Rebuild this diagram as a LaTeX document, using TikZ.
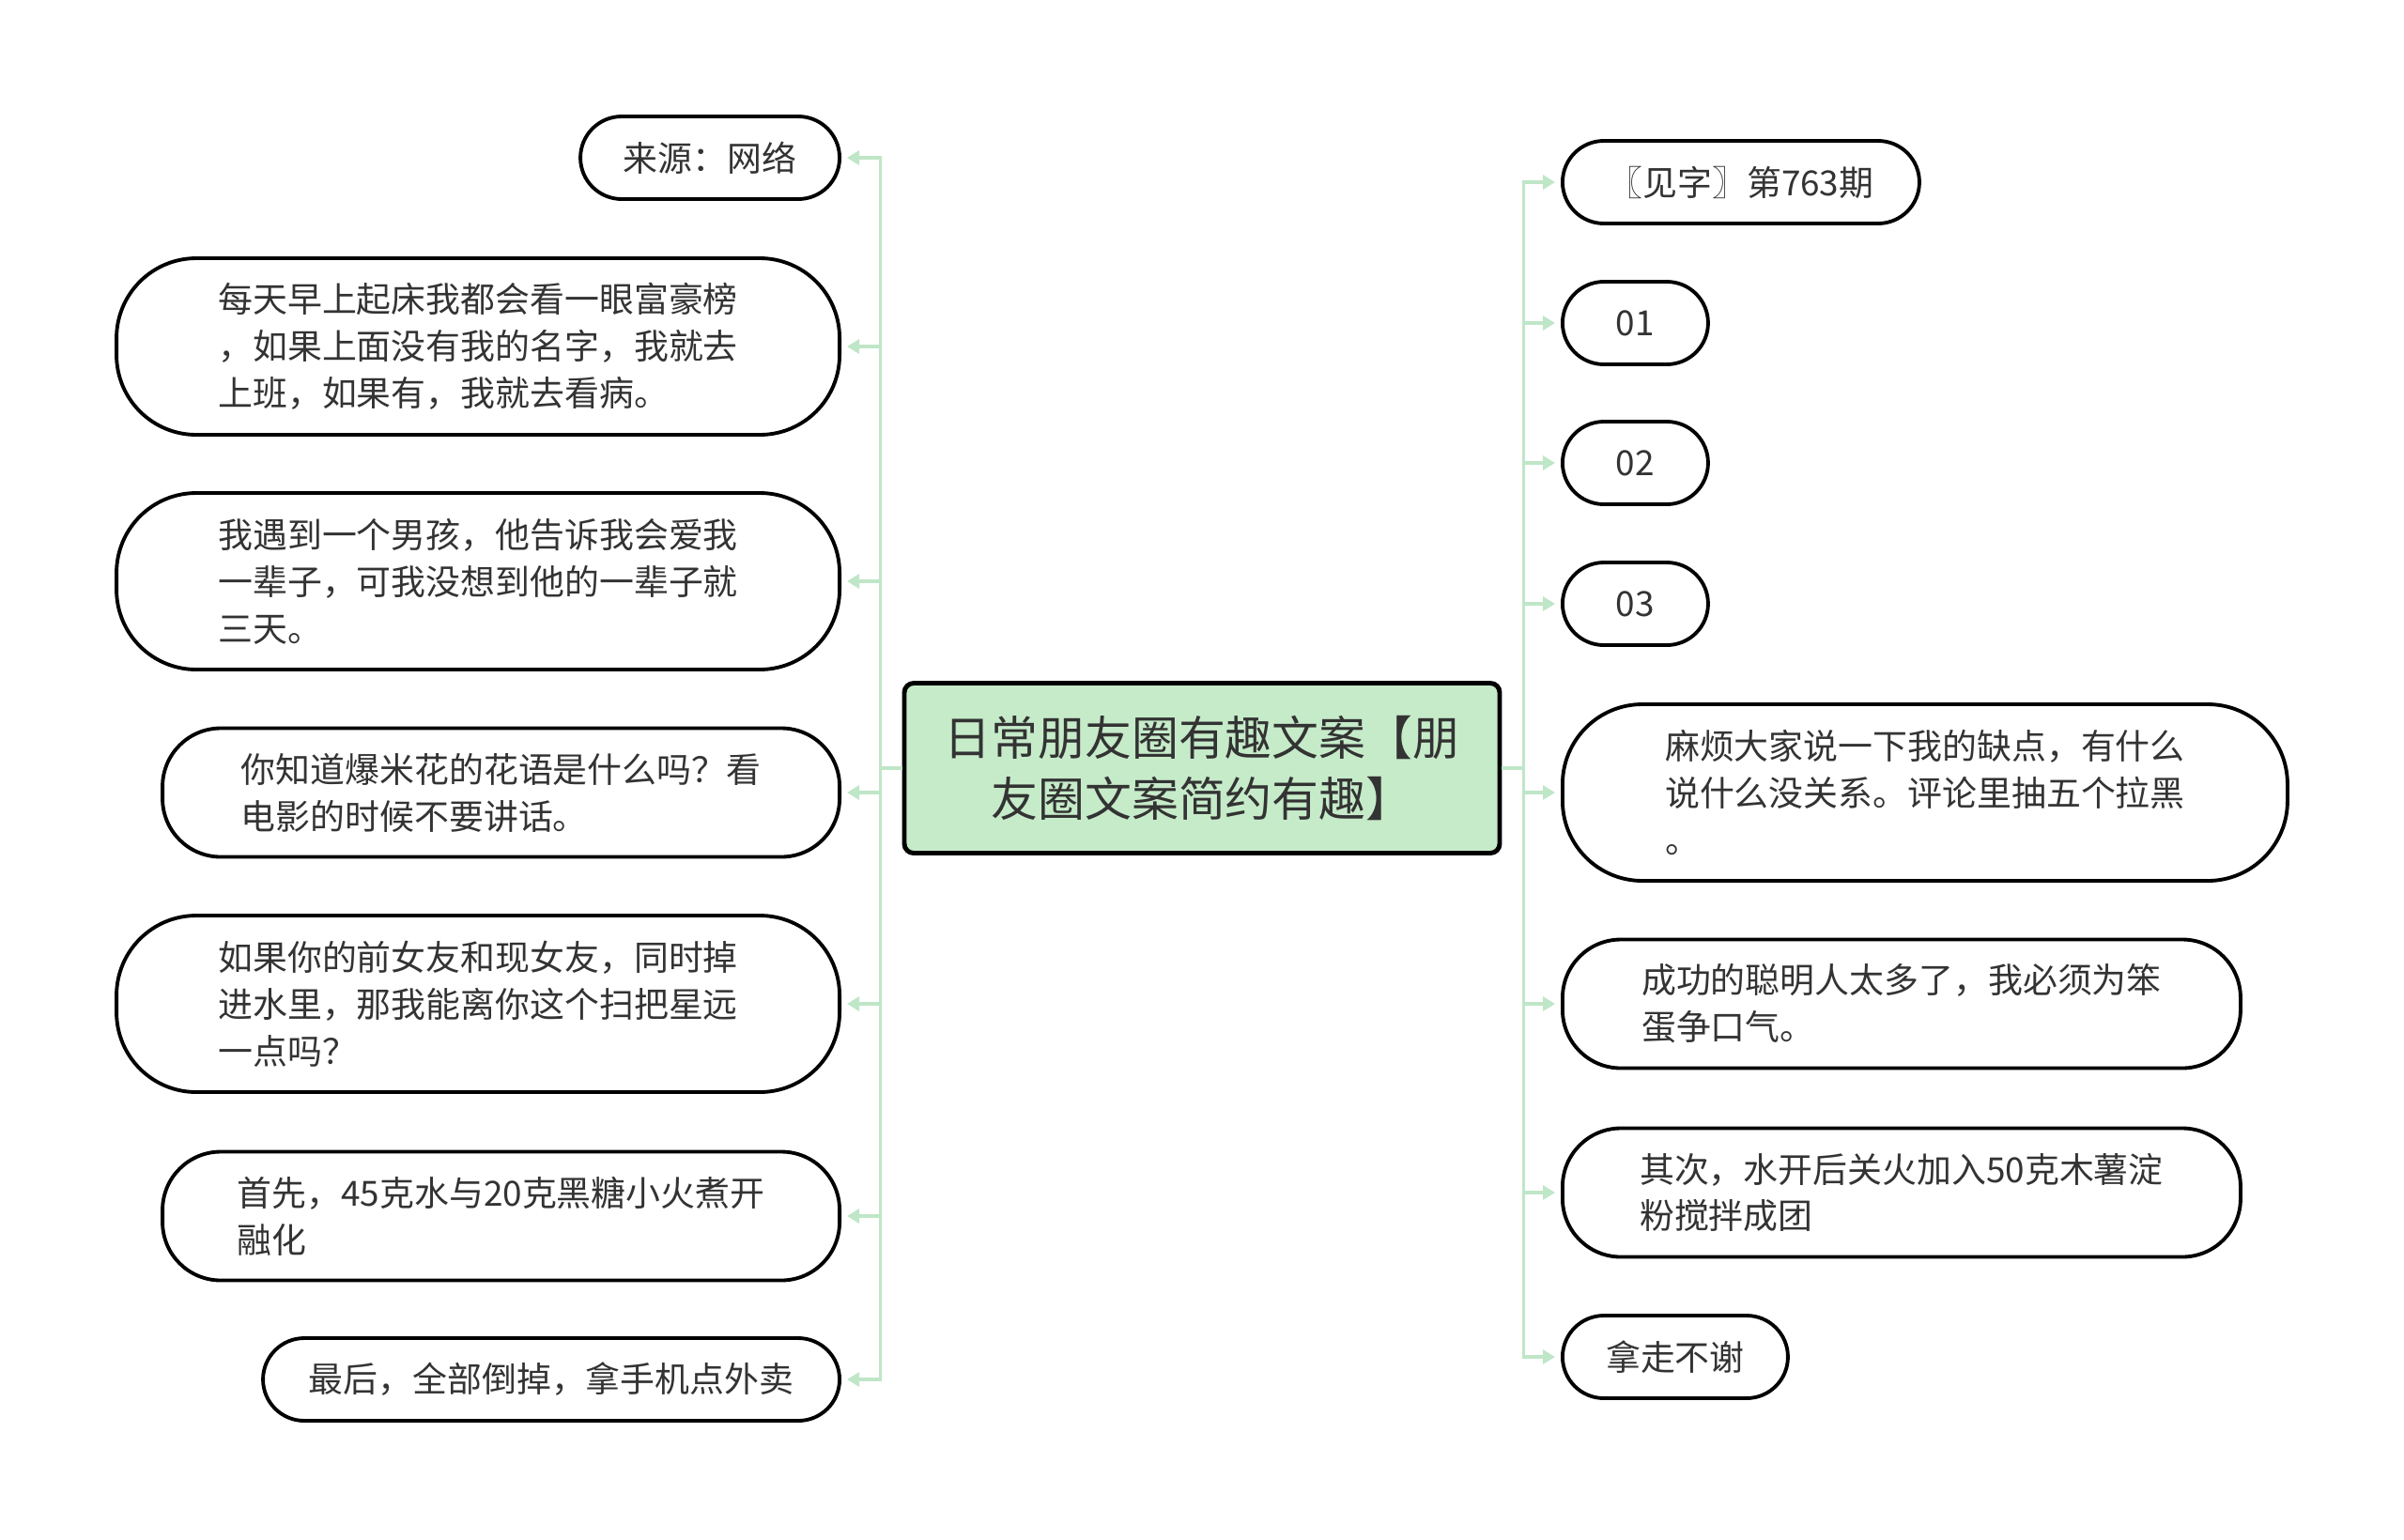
\documentclass[tikz,border=0pt]{standalone}
\usepackage{fontspec}
\usepackage{xcolor}
\usepackage{tikz}
\usetikzlibrary{arrows.meta, positioning}
\newfontfamily\cjk{Noto Sans CJK SC}
\definecolor{linkgreen}{HTML}{BFE6C7}
\definecolor{rootfill}{HTML}{C6EBC9}
\definecolor{txt}{HTML}{333333}

\begin{document}
\begin{tikzpicture}

  %% Canvas
  \useasboundingbox (0,0) rectangle (25.60,-16.39);

  %% Styles
  \tikzset{
    root/.style={draw=black, line width=1.4pt, fill=rootfill, rounded corners=0.1cm,
      minimum width=6.34cm, minimum height=1.81cm, align=center, text=txt,
      font=\cjk\fontsize{14.2}{18.5}\selectfont},
    leaf/.style={draw=black, line width=1.1pt, fill=white, align=left, text=txt,
      font=\cjk\fontsize{10.5}{14.2}\selectfont},
    one/.style={leaf, rounded corners=0.44cm, minimum height=0.88cm},
    two/.style={leaf, rounded corners=0.62cm, minimum height=1.37cm},
    three/.style={leaf, rounded corners=0.85cm, minimum height=1.88cm},
    link/.style={draw=linkgreen, line width=1pt, shorten >=0.06cm,
      -{Triangle[length=0.13cm, width=0.15cm]}}
  }

  %% Root
  \node[root] (root) at (12.80,-8.18)
    {日常朋友圈有趣文案【朋\\友圈文案简约有趣】};

  %% Left branch
  \node[one, minimum width=2.76cm, anchor=east] (l1) at (8.96,-1.68) {来源：网络};
  \node[three, minimum width=7.70cm, anchor=east] (l2) at (8.96,-3.69)
    {每天早上起床我都会看一眼富豪榜\\，如果上面没有我的名字，我就去\\上班，如果有，我就去看病。};
  \node[three, minimum width=7.70cm, anchor=east] (l3) at (8.96,-6.19)
    {我遇到一个男孩，他告诉我会爱我\\一辈子，可我没想到他的一辈子就\\三天。};
  \node[two, minimum width=7.21cm, anchor=east] (l4) at (8.96,-8.44)
    {你知道爆米花的花语是什么吗？看\\电影的时候不要讲话。};
  \node[three, minimum width=7.70cm, anchor=east] (l5) at (8.96,-10.69)
    {如果你的前女友和现女友，同时掉\\进水里，那我能离你这个扫把星远\\一点吗？};
  \node[two, minimum width=7.21cm, anchor=east] (l6) at (8.96,-12.95)
    {首先，45克水与20克黑糖小火煮开\\融化};
  \node[one, minimum width=6.14cm, anchor=east] (l7) at (8.96,-14.69)
    {最后，全部倒掉，拿手机点外卖};

  %% Right branch
  \node[one, minimum width=3.80cm, anchor=west] (r1) at (16.62,-1.94) {〖见字〗第763期};
  \node[one, minimum width=1.55cm, anchor=west] (r2) at (16.62,-3.44) {01};
  \node[one, minimum width=1.55cm, anchor=west] (r3) at (16.62,-4.93) {02};
  \node[one, minimum width=1.55cm, anchor=west] (r4) at (16.62,-6.43) {03};
  \node[three, minimum width=7.72cm, anchor=west] (r5) at (16.62,-8.44)
    {麻烦大家说一下我的缺点，有什么\\说什么没关系。评论里抽五个拉黑\\。};
  \node[two, minimum width=7.22cm, anchor=west] (r6) at (16.62,-10.69)
    {成功的聪明人太多了，我必须为笨\\蛋争口气。};
  \node[two, minimum width=7.22cm, anchor=west] (r7) at (16.62,-12.70)
    {其次，水开后关火加入50克木薯淀\\粉搅拌成团};
  \node[one, minimum width=2.40cm, anchor=west] (r8) at (16.62,-14.45) {拿走不谢};

  %% Connectors
  \foreach \n in {l1,l2,l3,l4,l5,l6,l7}{
    \draw[link] (root.west) -- ++(-0.23,0) |- (\n.east);
  }
  \foreach \n in {r1,r2,r3,r4,r5,r6,r7,r8}{
    \draw[link] (root.east) -- ++(0.23,0) |- (\n.west);
  }

\end{tikzpicture}
\end{document}
